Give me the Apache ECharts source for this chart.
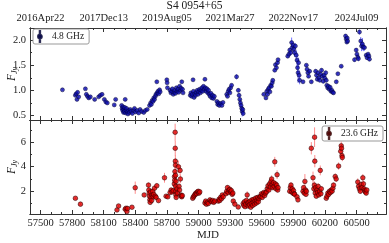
<!DOCTYPE html>
<html><head><meta charset="utf-8">
<script src="https://cdn.jsdelivr.net/npm/echarts@6/dist/echarts.min.js"></script>
<style>html,body{margin:0;padding:0;background:#fff}#c{width:389px;height:243px}</style>
</head><body><div id="c"></div>
<script>
// [MJD, flux density (Jy), error]
const obs48 = [
[57708,1.01,0.01],
[57831,0.90,0.02],[57838,0.93,0.02],[57846,0.82,0.02],[57852,0.96,0.03],[57862,0.87,0.02],
[57926,1.03,0.02],[57935,0.92,0.02],[57946,0.88,0.02],[57958,0.85,0.02],[57973,0.87,0.02],
[58014,0.82,0.02],[58052,0.87,0.02],[58068,0.90,0.02],[58084,0.92,0.02],
[58106,0.82,0.02],[58120,0.77,0.02],[58134,0.75,0.02],
[58200,0.71,0.02],[58213,0.82,0.02],
[58270,0.70,0.02],[58275,0.64,0.02],[58280,0.60,0.02],[58284,0.67,0.02],[58288,0.56,0.02],[58292,0.62,0.02],[58297,0.58,0.02],[58300,0.66,0.02],[58304,0.82,0.03],[58308,0.55,0.02],[58312,0.60,0.02],[58318,0.64,0.02],[58324,0.57,0.02],[58330,0.53,0.02],[58336,0.60,0.02],[58344,0.56,0.02],[58352,0.62,0.02],[58360,0.58,0.02],[58372,0.54,0.02],[58385,0.60,0.02],[58392,0.64,0.02],[58402,0.57,0.02],[58418,0.60,0.02],[58432,0.55,0.02],[58445,0.62,0.02],[58460,0.58,0.02],[58480,0.56,0.02],[58495,0.60,0.02],[58513,0.62,0.02],
[58535,0.70,0.02],[58545,0.75,0.02],[58552,0.72,0.02],[58560,0.80,0.02],[58568,0.78,0.02],[58575,0.85,0.02],[58582,0.82,0.02],[58590,0.88,0.02],[58596,0.92,0.02],[58604,1.17,0.03],[58608,0.95,0.02],[58615,0.98,0.02],[58622,0.93,0.02],[58630,1.01,0.02],[58636,0.97,0.02],
[58699,1.21,0.03],[58702,1.15,0.02],[58705,1.05,0.02],
[58730,1.00,0.02],[58738,0.95,0.02],[58745,0.98,0.02],[58752,1.03,0.02],[58760,0.92,0.02],[58768,0.96,0.02],[58775,1.00,0.02],[58782,0.94,0.02],[58790,1.05,0.02],[58797,0.98,0.02],[58805,1.02,0.02],[58812,0.96,0.02],[58820,1.08,0.02],[58828,1.00,0.02],[58835,1.04,0.02],[58841,1.17,0.03],[58848,1.02,0.02],[58853,0.95,0.02],
[58922,0.90,0.02],[58928,0.95,0.02],[58935,0.88,0.02],[58941,0.92,0.02],[58948,1.21,0.03],[58952,0.98,0.02],[58958,0.86,0.02],[58965,0.93,0.02],[58972,0.90,0.02],[58980,0.96,0.02],[58988,1.00,0.02],[58995,0.92,0.02],[59002,0.97,0.02],[59010,1.02,0.02],[59018,0.95,0.02],[59025,1.00,0.02],[59032,1.05,0.02],[59040,0.98,0.02],[59047,1.08,0.02],[59055,1.02,0.02],[59061,1.22,0.03],[59066,1.05,0.02],[59072,0.98,0.02],[59080,1.03,0.02],[59088,0.95,0.02],[59095,1.00,0.02],[59102,0.92,0.02],[59110,0.88,0.02],[59118,0.94,0.02],[59126,0.85,0.02],[59134,0.90,0.02],[59142,0.84,0.02],[59150,0.88,0.02],
[59175,0.78,0.02],[59182,0.72,0.02],[59190,0.75,0.02],[59198,0.70,0.02],[59210,0.74,0.02],[59222,0.70,0.02],[59232,0.76,0.02],
[59268,0.92,0.02],[59275,0.88,0.02],[59282,0.98,0.02],[59290,1.02,0.02],[59298,0.95,0.03],[59305,1.05,0.03],[59314,1.10,0.03],
[59361,1.27,0.05],[59378,1.00,0.04],[59385,0.90,0.05],[59392,0.82,0.06],[59398,0.75,0.08],[59404,0.70,0.06],[59410,0.64,0.08],[59415,0.58,0.10],[59420,0.62,0.05],[59424,0.54,0.05],
[59620,0.92,0.02],[59640,0.85,0.02],[59648,0.98,0.02],[59655,0.92,0.02],[59662,1.02,0.02],[59670,1.05,0.03],[59678,0.97,0.02],[59685,1.10,0.03],[59692,1.08,0.03],[59700,1.15,0.03],[59705,1.20,0.03],
[59724,1.40,0.03],[59730,1.51,0.03],[59740,1.45,0.03],[59750,1.55,0.03],[59755,1.61,0.03],
[59847,1.68,0.03],[59858,1.72,0.04],[59866,1.80,0.05],[59875,1.75,0.06],[59884,1.95,0.10],[59890,1.85,0.08],[59898,1.90,0.06],[59905,1.82,0.06],[59912,1.75,0.08],[59920,1.88,0.06],[59928,1.70,0.10],[59935,1.60,0.15],[59940,1.45,0.15],[59945,1.35,0.20],[59950,1.55,0.10],[59955,1.30,0.10],[59960,1.20,0.08],
[59992,1.17,0.03],[60024,1.50,0.03],[60030,1.42,0.03],[60038,1.35,0.03],[60045,1.28,0.03],[60055,1.38,0.04],[60071,1.17,0.03],
[60112,1.38,0.04],[60120,1.30,0.04],[60128,1.22,0.04],[60136,1.35,0.04],[60144,1.25,0.04],[60152,1.20,0.04],[60160,1.32,0.04],[60168,1.40,0.04],[60176,1.28,0.04],[60184,1.18,0.04],[60192,1.30,0.04],[60200,1.24,0.04],[60208,1.35,0.04],[60213,1.20,0.04],
[60218,1.10,0.03],[60226,1.05,0.03],[60234,1.08,0.03],[60242,1.02,0.03],[60250,1.06,0.03],[60258,0.98,0.03],[60266,1.00,0.03],[60274,0.96,0.03],[60282,0.95,0.03],
[60308,1.17,0.03],[60323,1.33,0.03],[60355,1.48,0.03],
[60396,2.08,0.04],[60402,2.02,0.04],[60408,1.96,0.04],[60412,2.04,0.04],[60416,1.98,0.04],
[60481,1.61,0.04],[60497,1.80,0.04],[60504,1.72,0.05],[60512,1.66,0.05],[60518,1.63,0.05],[60528,2.16,0.05],[60540,1.98,0.08],[60548,1.88,0.10],[60556,1.92,0.12],[60565,1.86,0.08],[60576,1.85,0.06],[60592,1.70,0.04],[60600,1.65,0.04],[60610,1.72,0.04],[60618,1.68,0.04],[60623,1.62,0.04]
];
const obs236 = [
[57831,1.43,0.08],[57879,0.95,0.08],
[58226,0.48,0.06],[58241,0.80,0.08],
[58304,0.54,0.06],[58312,0.62,0.06],[58320,0.35,0.06],[58326,0.60,0.06],[58368,0.70,0.06],
[58399,2.29,0.50],[58484,1.70,0.15],
[58525,2.50,0.20],[58528,2.10,0.20],[58532,1.85,0.15],[58535,1.60,0.12],[58538,1.30,0.10],[58541,1.10,0.10],[58545,1.95,0.15],[58550,1.50,0.12],[58555,1.25,0.10],[58560,1.70,0.15],[58565,2.00,0.20],[58570,1.55,0.12],[58575,1.75,0.15],[58582,2.25,0.20],[58590,1.60,0.15],[58598,1.50,0.12],[58604,2.45,0.20],[58620,1.24,0.10],
[58677,3.10,0.40],[58692,1.60,0.12],[58708,1.55,0.12],
[58730,1.90,0.15],[58740,2.10,0.20],[58750,1.95,0.15],[58760,2.05,0.20],
[58770,2.60,0.30],[58772,3.20,0.40],[58774,2.90,0.30],[58776,3.60,0.40],[58778,6.80,0.70],[58779,5.50,0.60],[58780,4.45,0.50],[58781,4.13,0.40],[58782,3.30,0.40],[58783,2.40,0.30],[58784,2.00,0.20],[58785,1.70,0.20],[58786,2.80,0.30],[58788,1.50,0.15],[58795,2.20,0.25],[58800,1.85,0.20],
[58809,4.00,0.50],[58815,2.40,0.30],[58820,2.10,0.20],[58825,3.70,0.40],[58828,3.00,0.35],[58832,1.70,0.15],[58836,1.60,0.15],[58841,1.55,0.12],[58846,1.65,0.15],
[58945,1.43,0.10],[58952,1.55,0.10],[58960,1.65,0.10],[58968,1.75,0.12],[58975,1.85,0.12],[58982,1.80,0.12],[58990,1.95,0.12],[58998,2.00,0.15],[59005,1.85,0.12],[59012,1.95,0.12],
[59061,1.05,0.08],[59068,1.20,0.08],[59075,0.95,0.08],[59085,1.10,0.08],[59093,1.00,0.08],
[59109,1.30,0.10],[59118,1.20,0.10],[59126,1.15,0.10],[59135,1.25,0.10],[59145,1.10,0.08],[59156,1.20,0.10],
[59188,1.20,0.10],[59195,1.35,0.10],[59202,1.25,0.10],[59210,1.50,0.12],[59218,1.40,0.12],[59226,1.70,0.15],[59235,1.55,0.12],
[59260,1.80,0.15],[59268,2.00,0.15],[59275,2.30,0.20],[59282,1.90,0.15],[59290,2.10,0.20],[59298,2.15,0.30],[59305,1.95,0.15],[59312,2.05,0.15],[59320,1.75,0.15],[59326,1.85,0.15],[59330,1.20,0.10],[59345,0.95,0.08],
[59377,0.72,0.06],
[59424,1.00,0.08],[59430,0.85,0.08],[59436,1.15,0.10],[59442,0.75,0.06],[59448,0.95,0.08],[59454,1.25,0.10],[59462,1.70,0.30],[59466,1.05,0.08],[59472,0.80,0.06],[59478,1.10,0.08],[59484,0.90,0.08],[59490,1.20,0.10],[59496,0.70,0.06],[59502,1.00,0.08],[59508,1.30,0.10],[59514,0.85,0.08],[59520,1.10,0.08],[59526,1.35,0.10],[59532,0.95,0.08],[59538,1.20,0.10],[59544,1.45,0.12],[59550,1.05,0.08],[59556,1.25,0.10],[59562,1.50,0.12],[59568,1.15,0.10],[59575,1.40,0.12],[59582,1.55,0.12],
[59590,1.60,0.12],[59598,1.80,0.15],[59605,1.50,0.12],[59612,1.75,0.15],[59620,1.90,0.15],[59628,1.65,0.15],[59636,1.85,0.15],[59645,1.95,0.15],
[59652,2.20,0.20],[59660,2.45,0.20],[59668,2.10,0.20],[59675,2.60,0.25],[59682,2.35,0.20],[59688,2.80,0.25],[59694,3.00,0.30],[59700,2.55,0.25],[59706,2.30,0.20],[59712,2.70,0.25],[59718,2.40,0.20],[59724,4.40,0.40],[59730,2.60,0.25],[59736,2.20,0.20],[59742,2.50,0.25],[59746,3.35,0.35],[59752,2.10,0.20],[59755,2.30,0.20],
[59866,2.00,0.15],[59872,2.30,0.20],[59878,2.50,0.25],[59884,1.95,0.15],[59890,2.20,0.20],[59896,1.85,0.15],[59902,2.05,0.15],[59908,1.80,0.15],[59913,1.75,0.15],
[59935,1.55,0.12],[59944,1.30,0.10],
[59992,2.00,0.15],[59998,2.30,0.20],[60004,1.85,0.15],[60010,2.80,0.60],[60016,2.10,0.20],[60020,1.75,0.15],[60024,2.00,0.15],
[60071,5.50,0.50],[60087,3.10,0.50],[60095,2.20,0.25],[60100,2.50,0.30],[60102,6.40,0.80],[60104,4.45,0.50],[60108,1.85,0.20],[60112,2.30,0.25],[60118,1.60,0.15],[60124,2.10,0.20],[60130,1.90,0.20],[60136,2.40,0.25],[60142,1.70,0.15],[60150,2.00,0.20],[60156,3.70,0.40],[60162,1.80,0.15],[60166,2.20,0.20],
[60213,1.43,0.10],[60220,1.60,0.12],[60228,1.85,0.15],[60236,1.75,0.15],[60244,2.00,0.15],[60252,1.90,0.15],[60260,2.10,0.20],[60268,2.00,0.15],[60276,2.25,0.20],[60282,2.50,0.20],
[60298,3.20,0.25],[60307,3.00,0.25],[60330,4.05,0.30],[60350,5.25,0.30],[60355,5.70,0.35],[60358,5.50,0.30],[60362,4.90,0.30],[60365,4.75,0.30],
[60512,2.75,0.30],[60520,2.40,0.25],[60528,2.20,0.25],[60536,2.00,0.20],[60544,2.55,0.25],[60552,2.30,0.20],[60560,3.10,0.30],[60566,2.60,0.25],[60572,2.20,0.20],[60578,2.05,0.20],[60584,1.95,0.15],[60592,1.85,0.15],[60598,2.10,0.20]
];
const mjdTicks = [57500,57800,58100,58400,58700,59000,59300,59600,59900,60200,60500];
const mjdMinor = [57400,57600,57700,57900,58000,58200,58300,58500,58600,58800,58900,59100,59200,59400,59500,59700,59800,60000,60100,60300,60400,60600,60700];
const dateTickValues = [57500,58100,58700,59300,59900,60500];
const dateTickLabels = ["2016Apr22","2017Dec13","2019Aug05","2021Mar27","2022Nov17","2024Jul09"];
const yTopTicks = [0.5,1.0,1.5,2.0];
const yTopMinor = [0.75,1.25,1.75];
const yBotTicks = [2,4,6];
const yBotMinor = [1,3,5,7];

const FONT = 'Liberation Serif';
const XMIN = 57400, XMAX = 60780;
const TOP = {min:0.41, max:2.24}, BOT = {min:0.15, max:7.8};

function xAx(grid, pos, ticks, len, labelVals, fmt, extra) {
  return Object.assign({
    type:'value', gridIndex:grid, position:pos, min:XMIN, max:XMAX,
    axisLine:{show:true, onZero:false, lineStyle:{color:'#333', width:1}},
    axisTick:{show:true, inside:true, length:len, customValues:ticks, lineStyle:{color:'#333'}},
    axisLabel: labelVals ? {show:true, customValues:labelVals, formatter:fmt, margin:4,
      showMinLabel:true, showMaxLabel:true, hideOverlap:false,
      fontFamily:FONT, fontSize:10.5, color:'#222'} : {show:false},
    splitLine:{show:false}
  }, extra||{});
}
function yAx(grid, pos, r, ticks, len, labelVals, fmt, extra) {
  return Object.assign({
    type:'value', gridIndex:grid, position:pos, min:r.min, max:r.max,
    axisLine:{show:true, onZero:false, lineStyle:{color:'#333', width:1}},
    axisTick:{show:true, inside:true, length:len, customValues:ticks, lineStyle:{color:'#333'}},
    axisLabel: labelVals ? {show:true, customValues:labelVals, formatter:fmt, margin:4,
      showMinLabel:true, showMaxLabel:true, hideOverlap:false,
      fontFamily:FONT, fontSize:10.5, color:'#222'} : {show:false},
    splitLine:{show:false}
  }, extra||{});
}
const yName = {
  name:'{f|F}{s|Jy}', nameLocation:'middle', nameRotate:90, nameGap:11, nameMoveOverlap:false,
  nameTextStyle:{rich:{
    f:{fontFamily:FONT, fontStyle:'italic', fontSize:11.5, color:'#222'},
    s:{fontFamily:FONT, fontStyle:'italic', fontSize:8, color:'#222', padding:[6,0,0,0]}
  }}
};

function errSeries(data, xi, yi, color) {
  return {
    type:'custom', xAxisIndex:xi, yAxisIndex:yi, silent:true, z:1,
    data:data.map(d=>[d[0], d[1]-d[2], d[1]+d[2]]),
    encode:{x:0, y:[1,2]},
    renderItem:function(params, api){
      const lo = api.coord([api.value(0), api.value(1)]);
      const hi = api.coord([api.value(0), api.value(2)]);
      return {type:'line', shape:{x1:lo[0], y1:lo[1], x2:hi[0], y2:hi[1]},
        style:{stroke:color, lineWidth:1}};
    }
  };
}
const iconPath = 'path://M4.6,0 H5.4 V20 H4.6 Z M5,6.5 A3.5,3.5 0 1 1 5,13.5 A3.5,3.5 0 1 1 5,6.5 Z';

const chart = echarts.init(document.getElementById('c'), null, {renderer:'canvas'});
chart.setOption({
  animation:false,
  backgroundColor:'#fff',
  title:{text:'S4 0954+65', left:'center', top:0, padding:0,
    textStyle:{fontFamily:FONT, fontSize:11.5, fontWeight:'normal', color:'#222'}},
  grid:[
    {left:30, right:3, top:28, height:92, containLabel:false, outerBoundsMode:'none'},
    {left:30, right:3, top:120, height:94, containLabel:false, outerBoundsMode:'none'}
  ],
  legend:[
    {data:['4.8 GHz'], left:33, top:29, padding:[1,5,1,4], itemWidth:14, itemHeight:11,
     icon:iconPath, borderColor:'#999', borderWidth:1, borderRadius:2, backgroundColor:'#fff',
     textStyle:{fontFamily:FONT, fontSize:9.5, color:'#222'}, selectedMode:false},
    {data:['23.6 GHz'], right:6, top:126, padding:[1,5,1,4], itemWidth:14, itemHeight:11,
     icon:iconPath, borderColor:'#999', borderWidth:1, borderRadius:2, backgroundColor:'#fff',
     textStyle:{fontFamily:FONT, fontSize:9.5, color:'#222'}, selectedMode:false}
  ],
  xAxis:[
    xAx(0,'bottom',mjdTicks,4,null),
    xAx(0,'bottom',mjdMinor,2,null),
    xAx(0,'top',dateTickValues,4,dateTickValues,v=>dateTickLabels[dateTickValues.indexOf(v)]),
    xAx(0,'top',mjdTicks.concat(mjdMinor).filter(v=>dateTickValues.indexOf(v)<0),2,null),
    xAx(1,'bottom',mjdTicks,4,mjdTicks,v=>String(v),
      {name:'MJD', nameLocation:'middle', nameGap:16,
       nameTextStyle:{fontFamily:FONT, fontSize:11, color:'#222'}}),
    xAx(1,'bottom',mjdMinor,2,null),
    xAx(1,'top',mjdTicks,4,null),
    xAx(1,'top',mjdMinor,2,null)
  ],
  yAxis:[
    yAx(0,'left',TOP,yTopTicks,4,yTopTicks,v=>v.toFixed(1),yName),
    yAx(0,'left',TOP,yTopMinor,2,null),
    yAx(0,'right',TOP,yTopTicks,4,null),
    yAx(0,'right',TOP,yTopMinor,2,null),
    yAx(1,'left',BOT,yBotTicks,4,yBotTicks,v=>String(v),yName),
    yAx(1,'left',BOT,yBotMinor,2,null),
    yAx(1,'right',BOT,yBotTicks,4,null),
    yAx(1,'right',BOT,yBotMinor,2,null)
  ],
  series:[
    errSeries(obs48,0,0,'#7373ff'),
    {name:'4.8 GHz', type:'scatter', xAxisIndex:0, yAxisIndex:0, z:2,
     data:obs48.map(d=>[d[0],d[1]]), symbolSize:4,
     itemStyle:{color:'#1010b0', borderColor:'#000030', borderWidth:0.6}},
    errSeries(obs236,4,4,'#ff8c8c'),
    {name:'23.6 GHz', type:'scatter', xAxisIndex:4, yAxisIndex:4, z:2,
     data:obs236.map(d=>[d[0],d[1]]), symbolSize:4.6,
     itemStyle:{color:'#e00000', borderColor:'#300000', borderWidth:0.7}}
  ]
});
</script></body></html>
